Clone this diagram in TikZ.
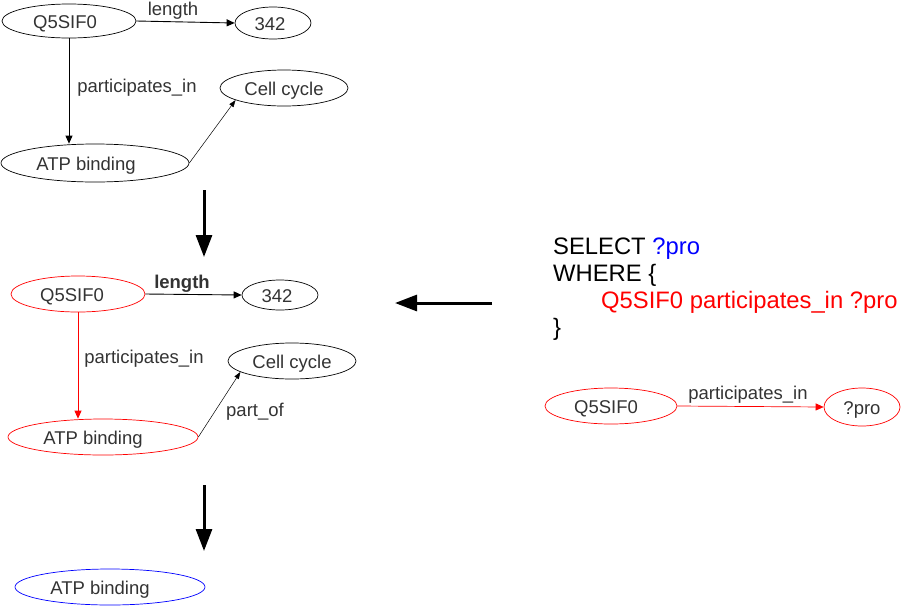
\documentclass[tikz,border=0pt]{standalone}
\usepackage{fontspec}
\setmainfont{Liberation Sans}
\usepackage{tikz}
\usetikzlibrary{shapes.geometric,arrows.meta}
\definecolor{txt}{HTML}{333333}
\definecolor{qblue}{HTML}{0000FF}
\definecolor{qred}{HTML}{FF0000}

\begin{document}
\begin{tikzpicture}[x=1pt,y=1pt]
\tikzstyle{every node}+=[inner sep=0pt, text=txt, font=\fontsize{18.5}{22}\selectfont]
\tikzstyle{term}=[draw=black, ellipse, line width=0.7pt, text height=15pt, text depth=0pt]
\tikzstyle{edge}=[line width=0.9pt, -{Triangle[length=8pt,width=7pt]}]
\tikzstyle{thin edge}=[line width=0.5pt, -{Triangle[length=7pt,width=5pt]}]
\tikzstyle{big arrow}=[line width=3pt, -{Triangle[length=22pt,width=16pt]}]
\tikzstyle{query}=[anchor=base west, text=black, font=\fontsize{23.8}{28}\selectfont]
\useasboundingbox (0,0) rectangle (908,-606);
% data graph
\node [term, minimum width=134pt, minimum height=34pt] (prot1) at (69,-21) {Q5SIF0\hspace*{8pt}};
\node [term, minimum width=76pt, minimum height=32pt] (len1) at (273,-23) {342\hspace*{6pt}};
\node [term, minimum width=128pt, minimum height=36pt] (cell1) at (284,-88) {Cell cycle};
\node [term, minimum width=188pt, minimum height=38pt] (atp1) at (95,-163) {ATP binding\hspace*{18pt}};
\node (lab1) at (173,-11) {length};
\node (lab2) at (137,-88) {participates\_in};
\draw [edge] (prot1.east) -- (len1.west);
\draw [edge] (prot1.south) -- (prot1.south |- atp1.north);
\draw [thin edge] (atp1.east) -- (cell1.194);
\coordinate (t1) at (204,-190);
\coordinate (h1) at (204,-257);
\draw [big arrow] (t1) -- (h1);
% matched graph
\node [term, draw=qred, minimum width=134pt, minimum height=36pt] (prot2) at (78,-294) {Q5SIF0\hspace*{12pt}};
\node [term, minimum width=76pt, minimum height=30pt] (len2) at (280,-295) {342\hspace*{6pt}};
\node [term, minimum width=128pt, minimum height=36pt] (cell2) at (292,-361) {Cell cycle};
\node [term, draw=qred, minimum width=190pt, minimum height=36pt] (atp2) at (103,-437) {ATP binding\hspace*{20pt}};
\node [font=\fontsize{18.5}{22}\selectfont\bfseries] (lab3) at (182,-284) {length};
\node (lab4) at (144,-359) {participates\_in};
\node (lab5) at (255,-412) {part\_of};
\draw [edge] (prot2.east) -- (len2.west);
\draw [edge, qred] (prot2.south) -- (prot2.south |- atp2.north);
\draw [thin edge] (atp2.east) -- (cell2.192);
\coordinate (t2) at (204,-485);
\coordinate (h2) at (204,-551);
\draw [big arrow] (t2) -- (h2);
% answer
\node [term, draw=qblue, minimum width=190pt, minimum height=36pt] (atp3) at (110,-587) {ATP binding\hspace*{20pt}};
% query
\node [query] (q1) at (553,-254) {SELECT \textcolor{qblue}{?pro}};
\node [query] (q2) at (553,-281) {WHERE \{};
\node [query, text=qred] (q3) at (601,-308) {Q5SIF0 participates\_in ?pro};
\node [query] (q4) at (553,-335) {\}};
\node [term, draw=qred, minimum width=132pt, minimum height=36pt] (prot3) at (611,-406) {Q5SIF0\hspace*{10pt}};
\node [term, draw=qred, minimum width=76pt, minimum height=38pt] (var3) at (862,-407) {?pro};
\node (lab6) at (748,-395) {participates\_in};
\draw [edge, qred, line width=0.7pt] (prot3.east) -- (var3.west);
\coordinate (t3) at (492,-303);
\coordinate (h3) at (395,-303);
\draw [big arrow] (t3) -- (h3);
\end{tikzpicture}
\end{document}
